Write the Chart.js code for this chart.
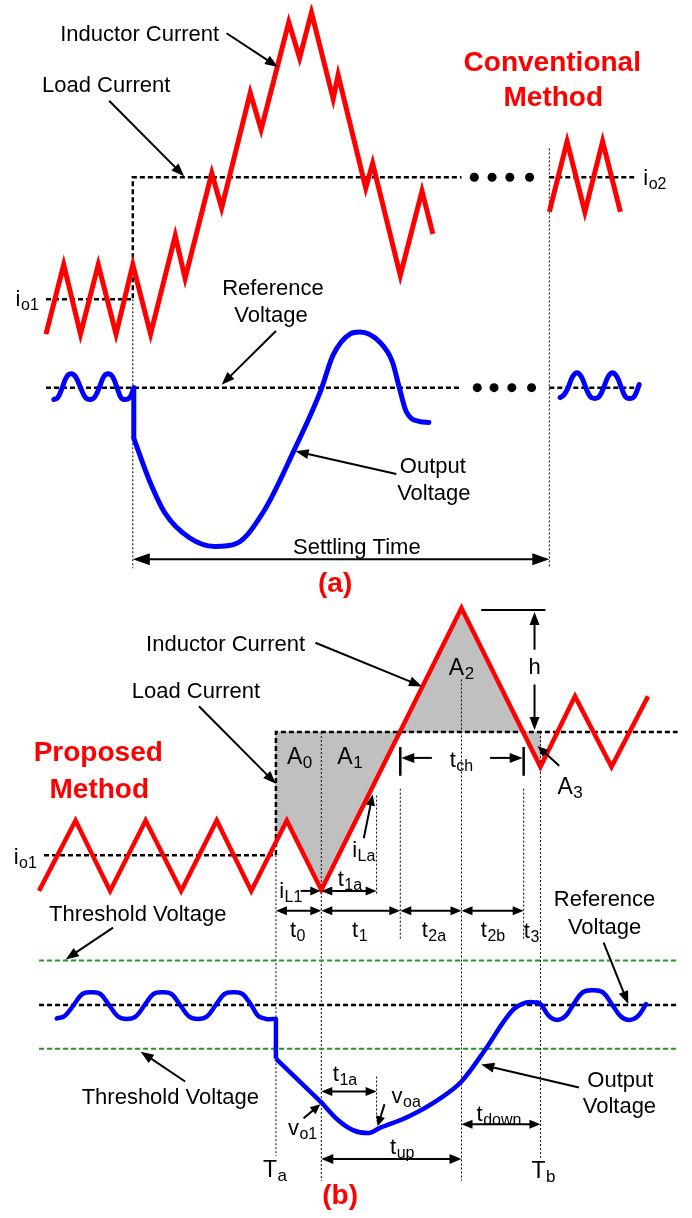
<!DOCTYPE html>
<html>
<head>
<meta charset="utf-8">
<script src="https://cdn.jsdelivr.net/npm/chart.js@4/dist/chart.umd.min.js"></script>
<style>
html,body{margin:0;padding:0;background:#fff;overflow:hidden;}
#wrap{position:relative;width:692px;height:1218px;}
</style>
</head>
<body>
<div id="wrap"><canvas id="c"></canvas></div>
<script>
// ---------- DATA (diagram units: x = time axis, y = signal level) ----------
// Panel (a) – conventional method
const convInductorMain = [[42,332],[60,262],[77,332],[95,262],[113,332],[130,262],[148,332],[173,233],[183,276],[210,170],[220,205],[249,89],[260,126],[288,18],[299,54],[311,8],[333,95],[338,71],[366,185],[373,160],[401,273],[423,188],[434,231]];
const convInductorEnd = [[552,209],[570,138],[588,209],[606,138],[624,209]];
const convLoadBefore = [[42,297],[130,297],[130,174],[463,174]];
const convLoadAfter = [[552,174],[638,174]];
const convRefBefore = [[42,386],[463,386]];
const convRefAfter = [[552,386],[638,386]];
const convDotsTop = [[476,174],[494,174],[512,174],[532,174]];
const convDotsRef = [[479,386],[496,386],[514,386],[534,386]];
const convVoutRipple = [[50,398],[54,396],[58.5,386],[63,375],[67.5,372],[72,375],[77,386],[82,396],[86.5,398],[91,396],[96,386],[100.5,375],[105,372],[109.5,375],[114,386],[118,396],[122,398],[127,396],[131,386]];
const convVoutStep = [[131,386],[131,437]];
const convVoutMain = [[131,437],[147,480],[163,513],[187,537],[213,546],[235,543],[263,510],[293,450],[320,390],[333,353],[350,332],[360,330],[380,340],[393,360],[400,386],[407,410],[420,420],[430,421]];
const convVoutEnd = [[563,396],[567,393],[571,386],[575.5,375],[580,371],[584.5,375],[589,386],[593.5,395],[598,397],[602.5,395],[607,386],[611.5,375],[616,371],[620.5,375],[625,386],[629,395],[633,397],[638,395],[643,383]];
const convMarkers = [[[130,297],[130,568]],[[552,145],[552,568]]];

// Panel (b) – proposed method
const propInductor = [[35,893],[72,822],[107,893],[143,822],[179,893],[215,822],[250,893],[286,822],[321,892],[463,608],[543,768],[578,697],[615,768],[652,697]];
const propLoad = [[40,857],[275,857],[275,733],[682,733]];
const areaA01 = [[275,733],[275,844],[286,822],[321,892],[400,733],[275,733]];
const areaA2 = [[400,733],[463,608],[525,733],[400,733]];
const areaA3 = [[525,733],[543,733],[543,768],[525,733]];
const thresholdHigh = [[35,963],[682,963]];
const thresholdLow = [[35,1052],[682,1052]];
const propRef = [[35,1008],[682,1008]];
const propVoutRipple = [[53,1021.5],[61,1019],[70,1008],[79,996.8],[88,995],[97,996.8],[106,1008],[115,1019.5],[124,1022],[133,1019.5],[142,1008],[151,996.8],[160,995],[169,996.8],[178,1008],[187,1019.5],[196,1022],[205,1019.5],[214,1008],[223,996.8],[232,995],[241,996.8],[250,1008],[257,1019],[265,1022],[275,1022]];
const propVoutStep = [[275,1022],[275,1062]];
const propVoutDrop = [[275,1062],[321,1106]];
const propVoutRecover = [[321,1106],[337,1123],[353,1134],[368,1137],[380,1132],[410,1120],[440,1103],[463,1085],[487,1053],[507,1023],[516,1012],[524,1007],[533,1005],[540,1005.5]];
const propVoutSettle = [[540,1005.5],[544,1008],[552,1019.5],[560,1023],[568,1019.5],[576,1008],[586,995],[596,993],[606,995],[616,1008],[624.5,1019.5],[633,1023],[641.5,1019.5],[650,1007]];
const propMarkers = [[[275,857],[275,1160]],[[321,733],[321,1185]],[[377,797],[377,897]],[[377,1080],[377,1125]],[[401,790],[401,943]],[[463,680],[463,1185]],[[526,790],[526,943]],[[543,733],[543,1162]]];

// ---------- annotations (arrows, rules, text) ----------
// [x1,y1,x2,y2, heads('end'|'both'), headLength, headHalfWidth]
const arrows = [
  [225,29,277,63,'end',13,5],[106,97,182,173,'end',13,5],[275,329,220,383,'end',13,5],[397,473,295,450,'end',13,5],
  [130,559,552,559,'both',17,6],
  [315,643,423,687,'end',13,5],[197,707,275,785,'end',13,5],[300,893,320,893,'end',10,4.5],[321,893,377,893,'both',11,4.5],
  [364,840,373,796,'end',11,4.5],[433,759,402,759,'end',13,5],[492,759,525,759,'end',13,5],
  [537,650,537,612,'end',13,5],[537,685,537,731,'end',13,5],[562,767,540,747,'end',11,4.5],
  [275,913,321,913,'both',11,4.5],[321,913,401,913,'both',11,4.5],[401,913,463,913,'both',11,4.5],[463,913,526,913,'both',11,4.5],
  [110,930,62,962,'end',13,5],[183,1085,138,1055,'end',13,5],[607,945,632,1007,'end',13,5],[582,1091,483,1068,'end',13,5],
  [303,1122,320,1108,'end',10,4.5],[385,1108,378,1130,'end',10,4.5],[321,1095,377,1095,'both',11,4.5],
  [321,1163,463,1163,'both',12,5],[463,1128,543,1128,'both',11,4.5]
];
const rules = [[483,610,548,610,2],[401,748,401,777,2.5],[526,748,526,777,2.5]];
// [text, subscript, cx, cy, style]
const labels = [
  ['Inductor Current','',137,29,'n'],['Load Current','',103,80,'n'],
  ['Conventional','',555,57,'b'],['Method','',556,92,'b'],
  ['i','o1',23,296,'n'],['i','o2',659,174,'n'],
  ['Reference','',272,285,'n'],['Voltage','',270,312,'n'],
  ['Output','',434,464,'n'],['Voltage','',435,491,'n'],
  ['Settling Time','',357,546,'n'],['(a)','',335,582,'b'],
  ['Inductor Current','',224,643,'n'],['Load Current','',194,691,'n'],
  ['Proposed','',95,752,'b'],['Method','',96,789,'b'],
  ['A','0',299,757,'a'],['A','1',350,757,'a'],['A','2',463,667,'a'],['A','3',573,787,'a'],
  ['t','ch',463,760,'n'],['h','',537,667,'n'],
  ['i','o1',21,858,'n'],['i','La',364,851,'n'],['i','L1',290,892,'n'],['t','1a',350,880,'n'],
  ['t','0',297,931,'n'],['t','1',360,931,'n'],['t','2a',435,931,'n'],['t','2b',495,931,'n'],['t','3',534,932,'n'],
  ['Threshold Voltage','',135,915,'n'],['Threshold Voltage','',168,1100,'n'],
  ['Reference','',608,900,'n'],['Voltage','',608,928,'n'],
  ['Output','',624,1083,'n'],['Voltage','',623,1109,'n'],
  ['v','o1',302,1131,'n'],['v','oa',407,1099,'n'],['t','1a',345,1077,'n'],['t','up',403,1150,'n'],['t','down',501,1117,'n'],
  ['T','a',274,1173,'a'],['T','b',546,1174,'a'],['(b)','',340,1198,'b']
];

// ---------- build ----------
const RED = '#ff0000', BLUE = '#0000ff', GREEN = '#1a9a1a', GRAY = '#c0c0c0';
const pts = a => a.map(([x, y]) => ({x, y}));
const line = (a, color, width, extra = {}) => Object.assign({
  data: pts(a), borderColor: color, borderWidth: width, pointRadius: 0, fill: false,
  tension: 0, borderJoinStyle: 'miter', borderCapStyle: 'butt'
}, extra);
const curve = (a, w) => line(a, BLUE, w, {cubicInterpolationMode: 'monotone', borderCapStyle: 'round', borderJoinStyle: 'round'});
const ripple = (a, w) => line(a, BLUE, w, {tension: 0.4, borderCapStyle: 'round', borderJoinStyle: 'round'});
const dashed = (a, color = '#000', w = 2.5) => line(a, color, w, {borderDash: [5, 3]});
const dotted = (seg) => line(seg, '#000', 1, {borderDash: [2, 2]});
const area = (a) => ({data: pts(a), borderColor: GRAY, borderWidth: 1, backgroundColor: GRAY, fill: 'shape', pointRadius: 0, tension: 0, order: 10});
const dots = (a) => ({data: pts(a), showLine: false, pointRadius: 4.5, pointBackgroundColor: '#000', pointBorderWidth: 0, borderColor: '#000'});

const datasets = [
  line(convInductorMain, RED, 5), line(convInductorEnd, RED, 5), line(propInductor, RED, 4.5),
  ripple(convVoutRipple, 5), line(convVoutStep, BLUE, 5), curve(convVoutMain, 5), ripple(convVoutEnd, 5),
  ripple(propVoutRipple, 4.5), line(propVoutStep, BLUE, 4.5), line(propVoutDrop, BLUE, 4.5), curve(propVoutRecover, 4.5), ripple(propVoutSettle, 4.5),
  dashed(convLoadBefore), dashed(convLoadAfter), dashed(convRefBefore), dashed(convRefAfter),
  dashed(propLoad), dashed(propRef), dashed(thresholdHigh, GREEN, 2), dashed(thresholdLow, GREEN, 2),
  dots(convDotsTop), dots(convDotsRef),
  ...convMarkers.map(dotted), ...propMarkers.map(dotted),
  area(areaA01), area(areaA2), area(areaA3)
];

const FAM = '"Liberation Sans", Arial, Helvetica, sans-serif';
const STY = {n: {f: 22, s: 16, w: '', c: '#000'}, a: {f: 23, s: 17, w: '', c: '#000'}, b: {f: 28, s: 20, w: 'bold ', c: RED}};

const overlay = {
  id: 'overlay',
  afterDatasetsDraw(chart) {
    const {ctx, scales: {x, y}} = chart;
    const X = v => x.getPixelForValue(v), Y = v => y.getPixelForValue(v);
    ctx.save();
    ctx.strokeStyle = '#000'; ctx.fillStyle = '#000'; ctx.lineCap = 'butt';
    for (const [x1, y1, x2, y2, w] of rules) {
      ctx.lineWidth = w; ctx.beginPath(); ctx.moveTo(X(x1), Y(y1)); ctx.lineTo(X(x2), Y(y2)); ctx.stroke();
    }
    const head = (tx, ty, hx, hy, L, H) => {
      const ang = Math.atan2(hy - ty, hx - tx);
      const bx = hx - L * Math.cos(ang), by = hy - L * Math.sin(ang);
      ctx.beginPath();
      ctx.moveTo(hx, hy);
      ctx.lineTo(bx + H * Math.sin(ang), by - H * Math.cos(ang));
      ctx.lineTo(bx - H * Math.sin(ang), by + H * Math.cos(ang));
      ctx.closePath(); ctx.fill();
      return [bx + 0.5 * Math.cos(ang), by + 0.5 * Math.sin(ang)];
    };
    for (const [x1, y1, x2, y2, mode, L, H] of arrows) {
      let ax = X(x1), ay = Y(y1), bx = X(x2), by = Y(y2);
      const [ex, ey] = head(ax, ay, bx, by, L, H);
      let sx = ax, sy = ay;
      if (mode === 'both') { [sx, sy] = head(bx, by, ax, ay, L, H); }
      ctx.lineWidth = 2; ctx.beginPath(); ctx.moveTo(sx, sy); ctx.lineTo(ex, ey); ctx.stroke();
    }
    ctx.textBaseline = 'alphabetic'; ctx.textAlign = 'left';
    for (const [t, s, cx, cy, k] of labels) {
      const st = STY[k];
      ctx.fillStyle = st.c;
      const fMain = st.w + st.f + 'px ' + FAM, fSub = st.w + st.s + 'px ' + FAM;
      ctx.font = fMain; const w1 = ctx.measureText(t).width;
      ctx.font = fSub; const w2 = s ? ctx.measureText(s).width + 0.5 : 0;
      const left = X(cx) - (w1 + w2) / 2, base = Y(cy) + st.f * 0.36;
      ctx.font = fMain; ctx.fillText(t, left, base);
      if (s) { ctx.font = fSub; ctx.fillText(s, left + w1 + 0.5, base + 4); }
    }
    ctx.restore();
  }
};

new Chart(document.getElementById('c'), {
  type: 'line',
  data: {datasets},
  options: {
    responsive: true, maintainAspectRatio: false, animation: false, events: [],
    layout: {padding: 0},
    plugins: {legend: {display: false}, tooltip: {enabled: false}, title: {display: false}},
    scales: {
      x: {type: 'linear', min: 0, max: 692, display: false},
      y: {type: 'linear', min: 0, max: 1218, reverse: true, display: false}
    }
  },
  plugins: [overlay]
});
</script>
</body>
</html>
